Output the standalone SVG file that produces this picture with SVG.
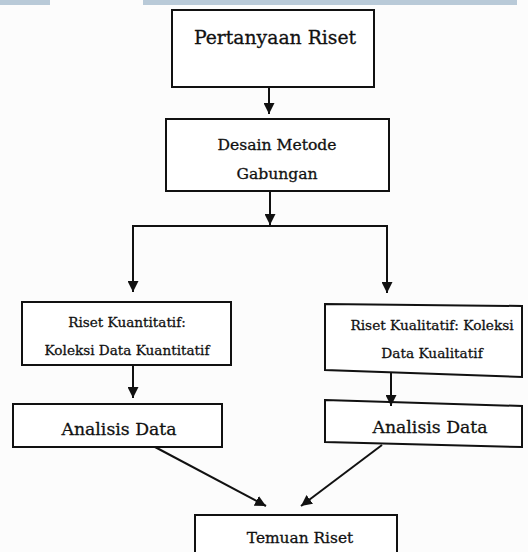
<svg xmlns="http://www.w3.org/2000/svg" width="528" height="552" viewBox="0 0 528 552">
<defs>
<marker id="ah" viewBox="0 0 10 10" refX="10" refY="5" markerWidth="5.5" markerHeight="5.5" markerUnits="strokeWidth" orient="auto">
<path d="M0,0 L10,5 L0,10 z" fill="#111"/>
</marker>
<style>
.box{fill:#fff;stroke:#111;stroke-width:2}
.t{font-family:"DejaVu Serif","Liberation Serif",serif;fill:#111;stroke:#111;stroke-width:0.3;text-anchor:middle}
.c{fill:none;stroke:#111;stroke-width:2}
</style>
</defs>
<rect width="528" height="552" fill="#fcfcfc"/>
<rect x="0" y="0" width="50" height="5" fill="#b9cad8"/>
<rect x="143" y="0" width="374" height="5" fill="#b9cad8"/>
<g id="n1"><rect class="box" x="172" y="10" width="202" height="77"/><text class="t" x="275" y="44" font-size="18.8">Pertanyaan Riset</text></g>
<g id="n2"><rect class="box" x="166" y="119" width="223" height="72"/><text class="t" x="277" y="150" font-size="15.6">Desain Metode</text><text class="t" x="277" y="179" font-size="15.6">Gabungan</text></g>
<g id="n3"><rect class="box" x="22" y="302" width="209" height="63"/><text class="t" x="127" y="327" font-size="13.6">Riset Kuantitatif:</text><text class="t" x="127" y="355" font-size="13.6">Koleksi Data Kuantitatif</text></g>
<g id="n4"><path class="box" d="M325,304 L522,306 L522,377 L325,370 Z"/><text class="t" x="432" y="330" font-size="13.7">Riset Kualitatif: Koleksi</text><text class="t" x="432" y="358" font-size="13.7">Data Kualitatif</text></g>
<g id="n5"><rect class="box" x="13" y="404" width="209" height="43"/><text class="t" x="119" y="435" font-size="17.3">Analisis Data</text></g>
<g id="n6"><path class="box" d="M325,400 L522,406 L522,447 L325,442 Z"/><text class="t" x="430" y="433" font-size="17.3">Analisis Data</text></g>
<g id="n7"><rect class="box" x="195" y="515" width="202" height="45"/><text class="t" x="300" y="543" font-size="15.4">Temuan Riset</text></g>
<g id="connectors">
<line class="c" x1="269" y1="87" x2="269" y2="114" marker-end="url(#ah)"/>
<line class="c" x1="270" y1="191" x2="270" y2="225" marker-end="url(#ah)"/>
<polyline class="c" points="133,292 133,226 387,226 387,293" stroke-linejoin="miter"/>
<line class="c" x1="133" y1="280" x2="133" y2="292" marker-end="url(#ah)"/>
<line class="c" x1="387" y1="280" x2="387" y2="293" marker-end="url(#ah)"/>
<line class="c" x1="133" y1="365" x2="133" y2="398" marker-end="url(#ah)"/>
<line class="c" x1="391" y1="372" x2="391" y2="406" marker-end="url(#ah)"/>
<line class="c" x1="155" y1="447" x2="266" y2="506" marker-end="url(#ah)"/>
<line class="c" x1="382" y1="445" x2="301" y2="506" marker-end="url(#ah)"/>
</g>
</svg>
